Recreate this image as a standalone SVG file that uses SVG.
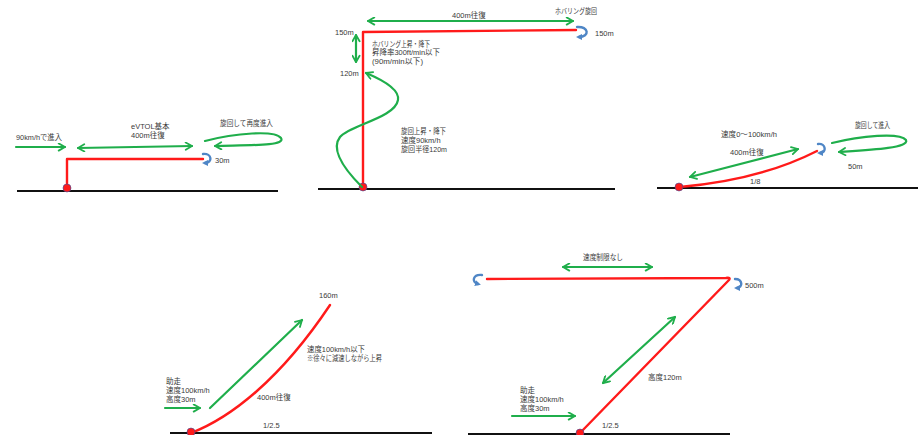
<svg xmlns="http://www.w3.org/2000/svg" width="922" height="435" viewBox="0 0 922 435">
  <style>
    .ground { stroke: #111; stroke-width: 2; fill: none; }
    .route  { stroke: #ff1a1a; stroke-width: 2.4; fill: none; stroke-linejoin: round; stroke-linecap: round; }
    .move   { stroke: #1fae4b; stroke-width: 2.2; fill: none; stroke-linecap: round; }
    .one    { marker-end: url(#ga); }
    .both   { marker-start: url(#ga); marker-end: url(#ga); }
    .turn   { stroke: #4f86c6; stroke-width: 2.4; fill: none; stroke-linecap: round; marker-end: url(#ba); }
    .pad    { fill: #ff1a1a; stroke: #3b4fa0; stroke-width: 0.6; }
    text    { font-family: "Liberation Sans", "Noto Sans CJK JP", sans-serif; font-size: 7.5px; fill: #3a3a3a; }
  </style>
  <defs>
    <marker id="ga" viewBox="0 0 10 10" refX="8.5" refY="5" markerWidth="9" markerHeight="9" markerUnits="userSpaceOnUse" orient="auto-start-reverse">
      <path d="M1.5,1 L8.5,5 L1.5,9" fill="none" stroke="#1fae4b" stroke-width="2" stroke-linecap="round" stroke-linejoin="round"/>
    </marker>
    <marker id="ba" viewBox="0 0 10 10" refX="5" refY="5" markerWidth="6" markerHeight="6" markerUnits="userSpaceOnUse" orient="auto">
      <path d="M0,0 L10,5 L0,10 Z" fill="#4f86c6"/>
    </marker>
  </defs>

  <!-- Panel 1: basic 400 m shuttle at 30 m -->
  <g id="panel-basic">
    <line class="ground" x1="17" y1="191" x2="278" y2="191"/>
    <path class="route" d="M67,189 V159 H203"/>
    <path class="turn" d="M203,154 C212,153 213,163 205,163"/>
    <circle class="pad" cx="67" cy="188" r="4"/>
    <text x="16" y="140" textLength="46" lengthAdjust="spacingAndGlyphs">90km/hで進入</text>
    <text x="131" y="129">eVTOL基本</text>
    <text x="131" y="138">400m往復</text>
    <text x="220" y="126" textLength="53" lengthAdjust="spacingAndGlyphs">旋回して再度進入</text>
    <text x="215" y="163">30m</text>
  </g>

  <!-- Panel 2: hovering climb to 150 m, shuttle, spiral descent -->
  <g id="panel-hover">
    <line class="ground" x1="318" y1="189" x2="615" y2="189"/>
    <path class="route" d="M363,187 V32 L576,30"/>
    <path class="turn" d="M577,27 C589,26 590,37 579,37"/>
    <circle class="pad" cx="363" cy="187" r="4"/>
    <text x="555" y="14" textLength="42" lengthAdjust="spacingAndGlyphs">ホバリング旋回</text>
    <text x="452" y="18">400m往復</text>
    <text x="595" y="36">150m</text>
    <text x="335" y="35">150m</text>
    <text x="372" y="47" textLength="58" lengthAdjust="spacingAndGlyphs">ホバリング上昇・降下</text>
    <text x="372" y="55" textLength="68" lengthAdjust="spacingAndGlyphs">昇降率300ft/min以下</text>
    <text x="372" y="64" textLength="51" lengthAdjust="spacingAndGlyphs">(90m/min以下)</text>
    <text x="340" y="76">120m</text>
    <text x="401" y="134" textLength="45" lengthAdjust="spacingAndGlyphs">旋回上昇・降下</text>
    <text x="401" y="143">速度90km/h</text>
    <text x="401" y="152" textLength="46" lengthAdjust="spacingAndGlyphs">旋回半径120m</text>
  </g>

  <!-- Panel 3: shallow 1/8 slope up to 50 m -->
  <g id="panel-shallow">
    <line class="ground" x1="657" y1="188" x2="918" y2="188"/>
    <path class="route" d="M680,187 Q760,180 817,151"/>
    <path class="turn" d="M818,144 C826,143 827,153 820,153"/>
    <circle class="pad" cx="679" cy="187" r="4"/>
    <text x="721" y="137" textLength="56" lengthAdjust="spacingAndGlyphs">速度0～100km/h</text>
    <text x="730" y="155">400m往復</text>
    <text x="855" y="128" textLength="35" lengthAdjust="spacingAndGlyphs">旋回して進入</text>
    <text x="848" y="169">50m</text>
    <text x="750" y="184">1/8</text>
  </g>

  <!-- Panel 4: run-up then 1/2.5 climb to 160 m -->
  <g id="panel-climb">
    <line class="ground" x1="170" y1="433" x2="432" y2="433"/>
    <path class="route" d="M191,433 C230,418 280,380 330,305"/>
    <circle class="pad" cx="191" cy="432" r="4"/>
    <text x="319" y="298">160m</text>
    <text x="307" y="352" textLength="58" lengthAdjust="spacingAndGlyphs">速度100km/h以下</text>
    <text x="307" y="361" textLength="75" lengthAdjust="spacingAndGlyphs">※徐々に減速しながら上昇</text>
    <text x="166" y="384">助走</text>
    <text x="166" y="393">速度100km/h</text>
    <text x="166" y="402">高度30m</text>
    <text x="257" y="400">400m往復</text>
    <text x="263" y="428">1/2.5</text>
  </g>

  <!-- Panel 5: 1/2.5 climb to 120 m, then unrestricted leg at 500 m -->
  <g id="panel-cruise">
    <line class="ground" x1="468" y1="434" x2="730" y2="434"/>
    <path class="route" d="M580,433 L729,280 Q731,277 726,278 L487,279"/>
    <path class="turn" d="M735,279 C743,279 743,288 737,288"/>
    <path class="turn" d="M482,275 C473,274 471,282 478,284"/>
    <circle class="pad" cx="580" cy="433" r="4"/>
    <text x="583" y="260" textLength="40" lengthAdjust="spacingAndGlyphs">速度制限なし</text>
    <text x="745" y="288">500m</text>
    <text x="648" y="380">高度120m</text>
    <text x="520" y="393">助走</text>
    <text x="520" y="402">速度100km/h</text>
    <text x="520" y="411">高度30m</text>
    <text x="602" y="428">1/2.5</text>
  </g>

  <!-- Green movement arrows -->
  <g id="connectors">
    <line class="move one" x1="16" y1="147" x2="65" y2="147"/>
    <line class="move both" x1="78" y1="148" x2="192" y2="146"/>
    <path class="move one" d="M205,141 C235,133 275,130 281,138 C286,146 250,145 215,146"/>

    <line class="move both" x1="368" y1="21" x2="573" y2="21"/>
    <line class="move both" x1="356" y1="35" x2="356" y2="62"/>
    <path class="move one" d="M362,187 C345,170 330,150 340,137 C350,125 395,118 398,100 C400,88 378,78 366,73"/>

    <line class="move both" x1="690" y1="177" x2="798" y2="149"/>
    <path class="move one" d="M832,143 C860,136 900,132 906,140 C910,148 870,150 839,152"/>

    <line class="move one" x1="165" y1="408" x2="200" y2="408"/>
    <line class="move one" x1="210" y1="408" x2="302" y2="320"/>

    <line class="move both" x1="563" y1="267" x2="652" y2="267"/>
    <line class="move both" x1="603" y1="383" x2="675" y2="317"/>
    <line class="move one" x1="512" y1="416" x2="575" y2="416"/>
  </g>
</svg>
